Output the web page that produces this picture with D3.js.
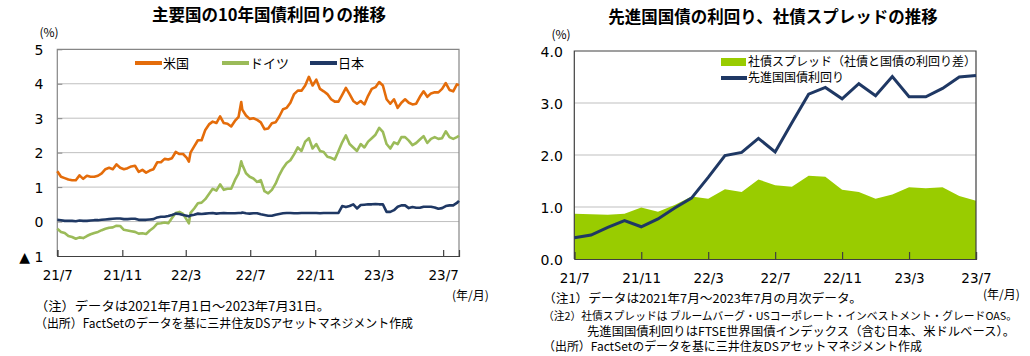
<!DOCTYPE html>
<html><head><meta charset="utf-8">
<script src="https://cdn.jsdelivr.net/npm/d3@7"></script>
<style>
body{margin:0;background:#fff}
svg{display:block;background:#fff}
text{font-family:"Noto Sans CJK JP","Noto Sans",sans-serif;fill:#000}
.num{font-family:"DejaVu Sans",sans-serif}
</style>
</head><body><svg id="c" width="1030" height="356"></svg>
<script>
// ---------- Left chart data: 10-year government bond yields (%) ----------
const dates = ["2021-07-01","2021-07-08","2021-07-15","2021-07-22","2021-07-29","2021-08-05","2021-08-12","2021-08-19","2021-08-26","2021-09-02","2021-09-09","2021-09-16","2021-09-23","2021-09-30","2021-10-07","2021-10-14","2021-10-21","2021-10-28","2021-11-04","2021-11-11","2021-11-18","2021-11-25","2021-12-02","2021-12-09","2021-12-16","2021-12-23","2021-12-30","2022-01-06","2022-01-13","2022-01-20","2022-01-27","2022-02-03","2022-02-10","2022-02-17","2022-02-24","2022-03-03","2022-03-07","2022-03-10","2022-03-17","2022-03-24","2022-03-31","2022-04-07","2022-04-14","2022-04-21","2022-04-28","2022-05-05","2022-05-12","2022-05-19","2022-05-26","2022-06-02","2022-06-09","2022-06-14","2022-06-16","2022-06-23","2022-06-30","2022-07-07","2022-07-14","2022-07-21","2022-07-28","2022-08-04","2022-08-11","2022-08-18","2022-08-25","2022-09-01","2022-09-08","2022-09-15","2022-09-22","2022-09-29","2022-10-06","2022-10-13","2022-10-20","2022-10-27","2022-11-03","2022-11-10","2022-11-17","2022-11-24","2022-12-01","2022-12-08","2022-12-15","2022-12-22","2022-12-29","2023-01-05","2023-01-12","2023-01-19","2023-01-26","2023-02-02","2023-02-09","2023-02-16","2023-02-23","2023-03-02","2023-03-09","2023-03-16","2023-03-23","2023-03-30","2023-04-06","2023-04-13","2023-04-20","2023-04-27","2023-05-04","2023-05-11","2023-05-18","2023-05-25","2023-06-01","2023-06-08","2023-06-15","2023-06-22","2023-06-29","2023-07-06","2023-07-13","2023-07-20","2023-07-27","2023-07-31"];
const usYield = [1.46,1.30,1.26,1.22,1.20,1.20,1.34,1.24,1.33,1.30,
  1.30,1.33,1.40,1.52,1.56,1.52,1.66,1.56,1.52,1.55,
  1.60,1.62,1.44,1.50,1.42,1.48,1.52,1.72,1.72,1.82,
  1.80,1.84,2.02,1.96,1.96,1.85,1.74,
  2.00,2.18,2.36,2.36,2.66,2.82,2.90,2.86,3.05,2.86,2.84,2.76,2.92,3.04,3.47,
  3.25,3.08,2.98,3.00,2.95,2.88,2.68,2.70,2.85,2.88,
  3.05,3.26,3.30,3.45,3.70,3.80,3.80,3.95,4.20,3.95,
  4.12,3.85,3.78,3.70,3.55,3.48,3.48,3.68,3.88,3.70,
  3.50,3.42,3.50,3.40,3.65,3.85,3.90,4.05,3.95,3.55,
  3.42,3.55,3.30,3.45,3.55,3.45,3.40,3.42,3.62,3.78,
  3.62,3.72,3.75,3.75,3.85,4.02,3.82,3.78,3.98,3.96];
const deYield = [-0.21,-0.30,-0.33,-0.42,-0.45,-0.50,-0.46,-0.48,-0.42,-0.37,
  -0.33,-0.30,-0.25,-0.21,-0.18,-0.17,-0.12,-0.13,-0.24,-0.26,
  -0.28,-0.30,-0.35,-0.34,-0.36,-0.26,-0.18,-0.06,-0.05,-0.03,
  -0.05,0.10,0.25,0.28,0.22,0.05,-0.05,
  0.25,0.38,0.53,0.55,0.65,0.80,0.95,0.90,1.08,0.92,0.95,0.95,1.20,1.40,1.75,
  1.65,1.40,1.30,1.25,1.15,1.20,0.88,0.82,0.92,1.10,
  1.35,1.55,1.70,1.78,1.95,2.15,2.05,2.32,2.42,2.12,
  2.25,2.05,2.02,1.88,1.85,1.80,2.05,2.30,2.50,2.25,
  2.15,2.05,2.25,2.15,2.32,2.42,2.52,2.72,2.60,2.25,
  2.12,2.30,2.25,2.45,2.45,2.35,2.22,2.28,2.38,2.48,
  2.28,2.40,2.45,2.40,2.42,2.62,2.45,2.40,2.45,2.49];
const jpYield = [0.05,0.04,0.02,0.02,0.02,0.01,0.03,0.02,0.02,0.03,
  0.04,0.04,0.05,0.06,0.07,0.08,0.09,0.09,0.07,0.07,
  0.08,0.08,0.05,0.05,0.05,0.06,0.07,0.12,0.14,0.14,
  0.16,0.19,0.23,0.22,0.19,0.17,0.15,
  0.18,0.20,0.23,0.22,0.23,0.24,0.25,0.23,0.24,0.25,0.24,0.24,0.24,0.25,0.25,
  0.26,0.24,0.23,0.24,0.24,0.21,0.19,0.17,0.17,0.20,
  0.22,0.24,0.25,0.25,0.24,0.24,0.25,0.25,0.25,0.25,
  0.25,0.24,0.25,0.25,0.25,0.25,0.25,0.45,0.42,0.45,
  0.50,0.38,0.48,0.49,0.50,0.50,0.51,0.50,0.50,0.28,
  0.28,0.33,0.43,0.47,0.47,0.39,0.42,0.40,0.40,0.43,
  0.43,0.43,0.41,0.37,0.39,0.45,0.47,0.47,0.54,0.60];
const leftSeriesNames = ["米国","ドイツ","日本"];
const leftYTicks = [-1,0,1,2,3,4,5];
const leftXTicks = ["2021-07-01","2021-11-01","2022-03-01","2022-07-01","2022-11-01","2023-03-01","2023-07-01"];

// ---------- Right chart data: monthly ----------
const months = ["21/7","21/8","21/9","21/10","21/11","21/12","22/1","22/2","22/3","22/4","22/5","22/6","22/7","22/8","22/9","22/10","22/11","22/12","23/1","23/2","23/3","23/4","23/5","23/6","23/7"];
const govYield = [0.41,0.46,0.61,0.74,0.62,0.77,0.98,1.17,1.57,1.99,2.05,2.32,2.06,2.62,3.17,3.30,3.08,3.37,3.14,3.51,3.12,3.12,3.28,3.50,3.53];
const spread = [0.87,0.86,0.85,0.87,0.99,0.91,1.04,1.20,1.16,1.34,1.29,1.53,1.42,1.39,1.60,1.58,1.33,1.29,1.16,1.24,1.38,1.36,1.38,1.21,1.12];
const rightSeriesNames = ["社債スプレッド（社債と国債の利回り差）","先進国国債利回り"];
const rightYTicks = [0,1,2,3,4];
const rightXTicks = ["21/7","21/11","22/3","22/7","22/11","23/3","23/7"];

const svg = d3.select("#c");
const parse = d3.timeParse("%Y-%m-%d");

function note(g, x, y, w, s, fs) {
  g.append("text").attr("x", x).attr("y", y).style("font-size", fs || "12.5px")
    .attr("textLength", w).attr("lengthAdjust", "spacingAndGlyphs").text(s);
}

// ================= LEFT CHART =================
(function(){
  const L = 57.3, R = 459, T = 49.3, B = 256;
  const x = d3.scaleTime().domain([parse(dates[0]), parse(dates[dates.length-1])]).range([L, R]);
  const y = d3.scaleLinear().domain([-1, 5]).range([B, T]);
  const g = svg.append("g");

  g.append("text").attr("x", 269).attr("y", 21).attr("text-anchor","middle")
    .style("font-size","16.5px").style("font-weight","bold").text("主要国の10年国債利回りの推移");
  g.append("text").attr("x", 49).attr("y", 37).attr("text-anchor","middle").style("font-size","12px").text("(%)");

  g.selectAll(".gl").data(leftYTicks.filter(v => v > -1 && v < 5)).join("line")
    .attr("x1", L).attr("x2", R).attr("y1", d => y(d)).attr("y2", d => y(d))
    .attr("stroke", "#bfbfbf").attr("stroke-width", 1);

  g.append("path").attr("d", `M${L},${B}V${T}H${R}V${B}`).attr("fill","none").attr("stroke","#868686").attr("stroke-width",1.2);

  const ya = d3.axisLeft(y).tickValues(leftYTicks).tickSize(-5).tickPadding(14)
    .tickFormat(d => d < 0 ? "▲ " + Math.abs(d) : String(d));
  const yg = g.append("g").attr("transform", `translate(${L},0)`).call(ya);
  yg.select(".domain").remove();
  yg.selectAll("line").attr("stroke","#868686");
  yg.selectAll("text").attr("class","num").style("font-size","14px").attr("fill","#000").attr("dy","0.36em");

  const xa = d3.axisBottom(x).tickValues(leftXTicks.map(parse)).tickSize(-6).tickPadding(14)
    .tickFormat(d3.timeFormat("%y/%-m"));
  const xg = g.append("g").attr("transform", `translate(0,${B})`).call(xa);
  xg.select(".domain").attr("stroke","#404040").attr("stroke-width",1.2);
  xg.selectAll("line").attr("stroke","#404040").attr("stroke-width",1.2);
  xg.selectAll("text").attr("class","num").style("font-size","13.5px").attr("fill","#000").attr("dy","0.75em");

  g.append("text").attr("x", 452).attr("y", 300).style("font-size","12px").text("(年/月)");

  const colors = ["#E46C0A", "#9BBB59", "#1F3864"];
  const series = [usYield, deYield, jpYield];
  const line = d3.line().x((d,i) => x(parse(dates[i]))).y(d => y(d));
  series.forEach((s, k) => {
    g.append("path").datum(s).attr("d", line).attr("fill","none")
      .attr("stroke", colors[k]).attr("stroke-width", 2.6).attr("stroke-linejoin","round");
  });

  const lx = [135, 222, 310];
  leftSeriesNames.forEach((n, k) => {
    g.append("line").attr("x1", lx[k]).attr("x2", lx[k] + 27).attr("y1", 63).attr("y2", 63)
      .attr("stroke", colors[k]).attr("stroke-width", 4);
    g.append("text").attr("x", lx[k] + 28).attr("y", 63).attr("dy","0.36em").style("font-size","13px").text(n);
  });

  note(g, 35, 311, 295, "（注）データは2021年7月1日～2023年7月31日。");
  note(g, 35, 328, 378, "（出所）FactSetのデータを基に三井住友DSアセットマネジメント作成");
})();

// ================= RIGHT CHART =================
(function(){
  const L = 574.3, R = 976, T = 51, B = 259;
  const x = d3.scalePoint().domain(months).range([L, R]);
  const y = d3.scaleLinear().domain([0, 4]).range([B, T]);
  const g = svg.append("g");

  g.append("text").attr("x", 773).attr("y", 23).attr("text-anchor","middle")
    .style("font-size","16.5px").style("font-weight","bold").text("先進国国債の利回り、社債スプレッドの推移");
  g.append("text").attr("x", 561).attr("y", 39).attr("text-anchor","middle").style("font-size","12px").text("(%)");

  g.selectAll(".gl").data(rightYTicks.filter(v => v > 0 && v < 4)).join("line")
    .attr("x1", L).attr("x2", R).attr("y1", d => y(d)).attr("y2", d => y(d))
    .attr("stroke", "#bfbfbf").attr("stroke-width", 1);

  const area = d3.area().x((d,i) => x(months[i])).y0(y(0)).y1(d => y(d));
  g.append("path").datum(spread).attr("d", area).attr("fill", "#99CC00");

  g.append("path").attr("d", `M${L},${B}V${T}H${R}V${B}`).attr("fill","none").attr("stroke","#404040").attr("stroke-width",1.2);

  const ya = d3.axisLeft(y).tickValues(rightYTicks).tickSize(0).tickPadding(11.5).tickFormat(d3.format(".1f"));
  const yg = g.append("g").attr("transform", `translate(${L},0)`).call(ya);
  yg.select(".domain").remove();
  yg.selectAll("text").attr("class","num").style("font-size","14px").attr("fill","#000").attr("dy","0.36em");

  const xa = d3.axisBottom(x).tickValues(rightXTicks).tickSize(-7).tickPadding(14);
  const xg = g.append("g").attr("transform", `translate(0,${B})`).call(xa);
  xg.select(".domain").attr("stroke","#404040").attr("stroke-width",1.2);
  xg.selectAll("line").attr("stroke","#404040").attr("stroke-width",1.2);
  xg.selectAll("text").attr("class","num").style("font-size","13.5px").attr("fill","#000").attr("dy","0.75em");

  const line = d3.line().x((d,i) => x(months[i])).y(d => y(d));
  g.append("path").datum(govYield).attr("d", line).attr("fill","none")
    .attr("stroke","#1F3864").attr("stroke-width",3).attr("stroke-linejoin","miter");

  g.append("rect").attr("x", 721).attr("y", 58).attr("width", 25).attr("height", 8).attr("fill","#99CC00");
  g.append("text").attr("x", 748).attr("y", 62).attr("dy","0.36em").style("font-size","12px").text(rightSeriesNames[0]);
  g.append("line").attr("x1", 721).attr("x2", 747).attr("y1", 78).attr("y2", 78).attr("stroke","#1F3864").attr("stroke-width",4);
  g.append("text").attr("x", 748).attr("y", 78).attr("dy","0.36em").style("font-size","12px").text(rightSeriesNames[1]);

  g.append("text").attr("x", 983).attr("y", 299).style("font-size","12px").text("(年/月)");

  note(g, 543, 303, 319, "（注1）データは2021年7月～2023年7月の月次データ。", "12px");
  note(g, 543, 320, 474, "（注2）社債スプレッドは ブルームバーグ・USコーポレート・インベストメント・グレードOAS。", "10.8px");
  note(g, 587, 336, 428, "先進国国債利回りはFTSE世界国債インデックス（含む日本、米ドルベース）。", "12px");
  note(g, 543, 351, 379, "（出所）FactSetのデータを基に三井住友DSアセットマネジメント作成", "12px");
})();
</script>
</body></html>
